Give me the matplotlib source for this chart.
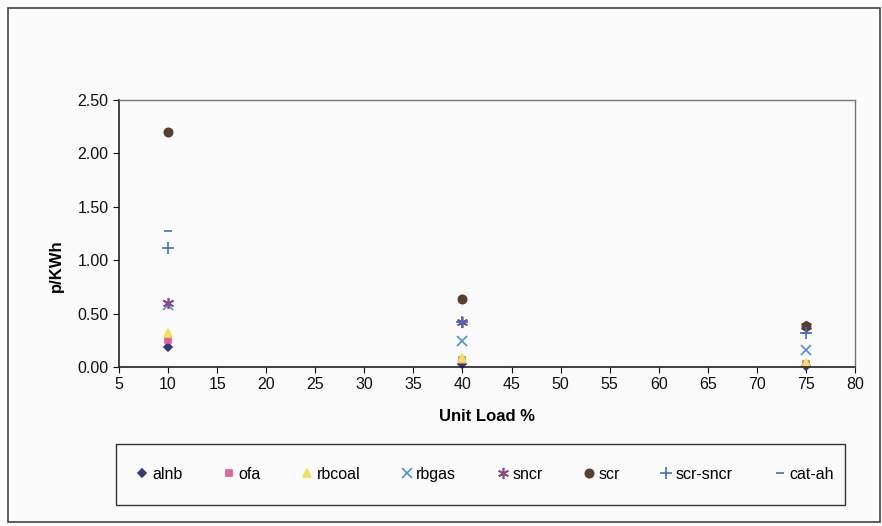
import matplotlib.pyplot as plt
from matplotlib.patches import Rectangle

plt.rcParams['font.family'] = ['Liberation Sans', 'DejaVu Sans']

# unit load (%) and cost per technology (p/KWh)
load = [10, 40, 75]
alnb = [0.19, 0.03, 0.01]
ofa = [0.25, 0.07, 0.03]
rbcoal = [0.32, 0.08, 0.04]
rbgas = [0.58, 0.24, 0.16]
sncr = [0.60, 0.42, 0.38]
scr = [2.20, 0.64, 0.38]
scr_sncr = [1.11, 0.42, 0.32]
cat_ah = [1.27, 0.42, 0.32]

series = [
    ("alnb", alnb, "D", "#363b78", 4.5),
    ("ofa", ofa, "s", "#e0609a", 5),
    ("rbcoal", rbcoal, "^", "#f2e05a", 6),
    ("rbgas", rbgas, "x", "#4a8fe0", 7),
    ("sncr", sncr, (6, 2, 0), "#8a4a86", 8),
    ("scr", scr, "o", "#5a3e30", 6),
    ("scr-sncr", scr_sncr, "+", "#4070c0", 9),
    ("cat-ah", cat_ah, "_", "#4070c0", 6),
]

W, H = 882, 526
fig = plt.figure(figsize=(W / 100, H / 100), dpi=100)
fig.patch.set_facecolor("#fbfbfb")
ax = fig.add_axes([119 / W, 1 - 367 / H, 736 / W, 267 / H])
ax.set_facecolor("#fbfbfb")

for name, vals, mk, col, ms in series:
    ax.plot(load, vals, linestyle="none", marker=mk, color=col,
            markersize=ms, markeredgewidth=1.2, label=name, clip_on=False)

ax.set_xlim(5, 80)
ax.set_ylim(0, 2.5)
ax.set_xticks(range(5, 81, 5))
ax.set_yticks([0, 0.5, 1.0, 1.5, 2.0, 2.5])
ax.set_yticklabels(["%.2f" % v for v in ax.get_yticks()])
ax.tick_params(direction="out", length=4, labelsize=11.5, colors="#111111")
ax.set_xlabel("Unit Load %", fontsize=12, fontweight="bold", labelpad=12)
ax.set_ylabel("p/KWh", fontsize=12, fontweight="bold", labelpad=8)
ax.yaxis.set_label_coords(-0.075, 0.38)

for side in ("left", "bottom"):
    ax.spines[side].set_color("#222222")
    ax.spines[side].set_linewidth(1.2)
for side in ("top", "right"):
    ax.spines[side].set_color("#777777")
    ax.spines[side].set_linewidth(1.0)

leg = fig.legend(loc="center", ncol=8, mode="expand",
                 bbox_to_anchor=(128 / W, 1 - 505 / H, 712 / W, 61 / H),
                 frameon=True, fancybox=False, fontsize=11.5,
                 handletextpad=0.1, handlelength=1.0, borderaxespad=0)
leg.get_frame().set_visible(False)

# outer chart border
fig.patches.append(Rectangle((8 / W, 1 - 522 / H), 872 / W, 514 / H,
                             transform=fig.transFigure, fill=False,
                             edgecolor="#444444", linewidth=1.2))
# legend box outline
fig.patches.append(Rectangle((116 / W, 1 - 505 / H), 729 / W, 61 / H,
                             transform=fig.transFigure, fill=False,
                             edgecolor="#333333", linewidth=1.0))

fig.savefig("out.png", dpi=100, facecolor=fig.get_facecolor())
